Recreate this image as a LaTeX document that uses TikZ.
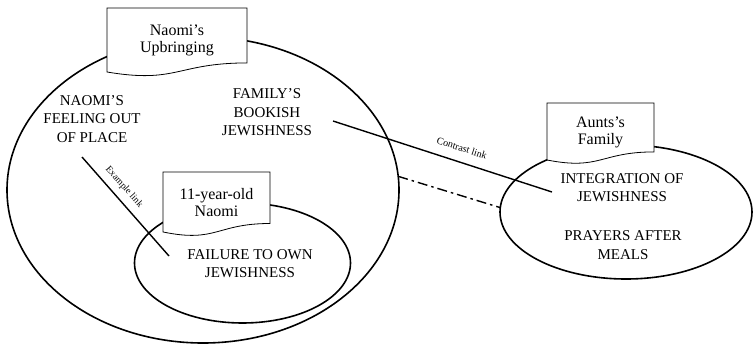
\documentclass[tikz,border=0pt]{standalone}
\usepackage{fontspec}
\setmainfont{Liberation Serif}
\usetikzlibrary{shapes.geometric}
\tikzset{
  ell/.style={ellipse, draw, line width=1.6pt, inner sep=0pt, outer sep=0pt},
  maintext/.style={align=center, font=\fontsize{15}{18.5}\selectfont, inner sep=0pt},
  boxtext/.style={align=center, font=\fontsize{16}{17}\selectfont, inner sep=0pt},
  docline/.style={draw, fill=white, line width=0.8pt},
  link/.style={line width=1.4pt},
  dashdotlink/.style={line width=1.4pt, dash pattern=on 10pt off 4pt on 2.5pt off 4pt},
  linklabel/.style={inner sep=0pt}
}
\newcommand\docbox[6]{%
  \pgfmathsetmacro\dbxm{#2+#4/2}%
  \pgfmathsetmacro\dbxr{#2+#4}%
  \pgfmathsetmacro\dbyr{#3+0.802*#5}%
  \pgfmathsetmacro\dbyc{#3+1.107*#5}%
  \pgfmathsetmacro\dbyl{#3+0.934*#5}%
  \pgfmathsetmacro\dbym{#3+0.48*#5}%
  \filldraw[docline] (#2,#3) -- (\dbxr,#3) -- (\dbxr,\dbyr) .. controls (\dbxm,\dbyr) and (\dbxm,\dbyc) .. (#2,\dbyl) -- cycle;
  \node[boxtext] (#1) at (\dbxm,\dbym) {#6};
}
\begin{document}
\begin{tikzpicture}[x=1pt,y=-1pt]
\useasboundingbox (0,0) rectangle (753,346);
% ellipses
\node[ell, minimum width=392pt, minimum height=306pt] (bigell) at (203,190) {};
\node[ell, minimum width=216pt, minimum height=120pt] (smallell) at (242.5,263) {};
\node[ell, minimum width=252pt, minimum height=134pt] (auntell) at (626,212) {};
% texts
\node[maintext] (feel) at (92,119) {NAOMI’S\\FEELING OUT\\OF PLACE};
\node[maintext] (bookish) at (267,112.5) {FAMILY’S\\BOOKISH\\JEWISHNESS};
\node[maintext] (failure) at (250,263.5) {FAILURE TO OWN\\JEWISHNESS};
\node[maintext] (integ) at (622,187.5) {INTEGRATION OF\\JEWISHNESS};
\node[maintext] (prayers) at (623,245) {PRAYERS AFTER\\MEALS};
% links
\coordinate (cs) at (333,121);
\coordinate (ce) at (552,192);
\draw[link] (cs) -- (ce);
\node[linklabel, font=\fontsize{10}{12}\selectfont, rotate=-18] (clab) at (462,148) {Contrast link};
\coordinate (es) at (82,157);
\coordinate (ee) at (169,256);
\draw[link] (es) -- (ee);
\node[linklabel, font=\fontsize{9.5}{11}\selectfont, rotate=-48.4] (elab) at (124,187) {Example link};
\draw[dashdotlink] (bigell.4) -- (auntell.178);
% document boxes
\docbox{upbr}{107}{8}{140}{68.5}{Naomi’s\\Upbringing}
\docbox{eleven}{163}{172}{107}{64.2}{11-year-old\\Naomi}
\docbox{aunts}{547}{103}{107}{61}{Aunts’s\\Family}
\end{tikzpicture}
\end{document}
